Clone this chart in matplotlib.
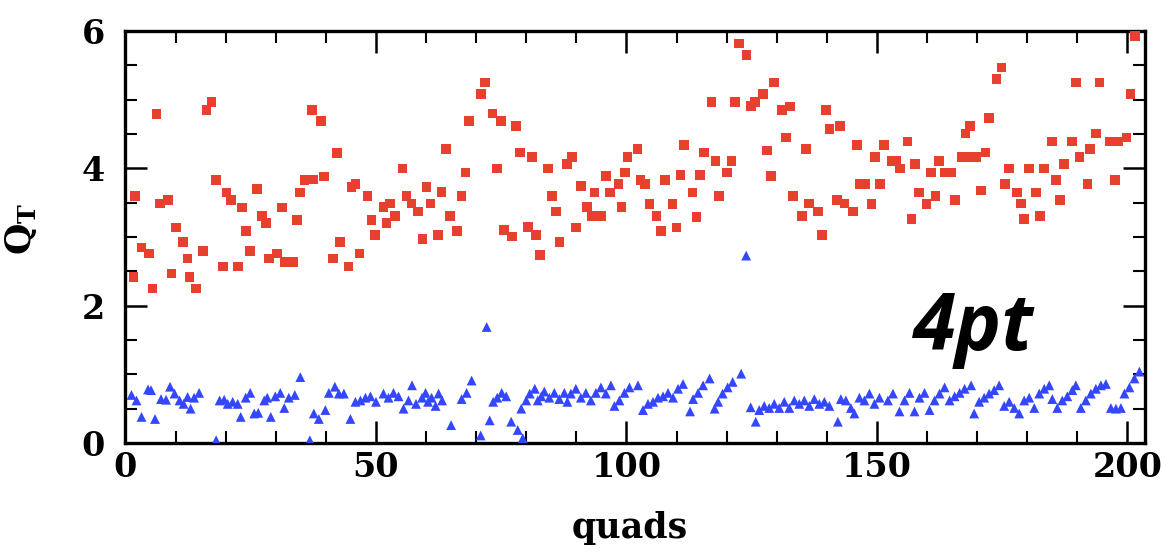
import matplotlib
matplotlib.use("Agg")
import matplotlib.pyplot as plt
from matplotlib.ticker import MultipleLocator

plt.rcParams["mathtext.fontset"] = "dejavuserif"

# ---- data ----
red_x = [1.6, 1.9, 3.2, 4.75, 5.4, 6.2, 6.9, 8.5, 9.2, 10.1, 11.5, 12.4, 12.8, 14.1, 15.5, 16.2, 17.2, 18.1,
         19.5, 20.2, 21.1, 22.5, 23.3, 24.1, 24.8, 26.2, 27.2, 28.0, 28.7, 30.3, 31.2, 31.8, 33.5, 34.2, 34.8,
         35.7, 37.2, 37.5, 39.0, 39.6, 41.4, 42.2, 42.8, 44.5, 45.1, 45.9, 46.7, 48.3, 49.1, 49.8,
         51.5, 52.1, 52.8, 53.8, 55.3, 56.1, 57.1, 58.4, 59.3, 60.1, 60.9, 62.4, 63.1, 64.0, 64.8, 66.2, 67.1,
         67.9, 68.6, 71.0, 71.8, 73.3, 74.1, 75.0, 75.6, 77.1, 77.9, 78.7, 80.4, 81.1, 81.9, 82.7, 84.3, 85.1,
         85.9, 86.6, 88.1, 89.1, 89.9, 90.9, 92.1, 93.1, 93.6, 95.0, 95.9, 96.7, 98.4, 99.0, 99.7, 100.2,
         102.2, 102.8, 103.7, 104.6, 106.0, 106.9, 107.7, 109.2, 110.0, 110.8, 111.5, 113.2, 114.0, 114.7,
         115.5, 117.0, 117.8, 118.5, 120.1, 121.0, 121.7, 122.5, 124.0, 124.8, 125.6, 127.2, 128.0, 128.8,
         129.5, 131.1, 131.8, 132.6, 133.3, 135.0, 135.8, 136.5, 138.2, 139.0, 139.8, 140.5, 142.0, 142.6,
         143.5, 145.2, 146.0, 146.6, 147.6, 148.9, 149.6,
         150.6, 151.4, 152.9, 153.9, 154.6, 156.1, 156.9, 157.6, 158.4, 159.9, 160.8, 161.7, 162.4, 163.6,
         164.9, 165.6, 166.9, 167.7, 168.6, 168.3, 169.8, 170.8, 171.7, 172.4, 173.9, 174.9, 175.6, 176.4,
         177.9, 178.7, 179.3, 180.3, 181.7, 182.5, 183.3, 184.9, 185.7, 186.5, 187.3, 188.9, 189.7, 190.4,
         192.0, 192.5, 193.7, 194.4, 196.5, 197.5, 198.2, 199.8, 200.6, 201.5]
red_y = [2.42, 3.60, 2.85, 2.76, 2.25, 4.79, 3.49, 3.54, 2.47, 3.14, 2.93, 2.69, 2.42, 2.25, 2.80, 4.85, 4.97, 3.83,
         2.57, 3.65, 3.54, 2.57, 3.43, 3.09, 2.80, 3.70, 3.31, 3.20, 2.69, 2.76, 3.43, 2.64, 2.64, 3.25, 3.65,
         3.83, 4.85, 3.84, 4.69, 3.88, 2.69, 4.22, 2.93, 2.57, 3.73, 3.77, 2.76, 3.60, 3.25, 3.03,
         3.44, 3.20, 3.49, 3.31, 4.00, 3.60, 3.49, 3.37, 2.97, 3.73, 3.49, 3.03, 3.66, 4.28, 3.31, 3.09, 3.60,
         3.94, 4.69, 5.08, 5.25, 4.80, 4.00, 4.69, 3.10, 3.01, 4.62, 4.23, 3.15, 4.17, 3.03, 2.74, 4.00, 3.60,
         3.37, 2.93, 4.06, 4.17, 3.14, 3.74, 3.44, 3.31, 3.65, 3.31, 3.89, 3.65, 3.77, 3.44, 3.94, 4.17,
         4.28, 3.83, 3.77, 3.48, 3.31, 3.09, 3.83, 3.48, 3.14, 3.90, 4.34, 3.65, 3.29, 3.90,
         4.23, 4.97, 4.11, 3.60, 3.94, 4.11, 4.97, 5.82, 5.65, 4.91, 4.97, 5.08, 4.26, 3.89,
         5.25, 4.85, 4.45, 4.90, 3.60, 3.31, 4.28, 3.49, 3.37, 3.03, 4.85, 4.57, 3.54, 4.62,
         3.49, 3.37, 4.34, 3.77, 3.77, 3.48, 4.17,
         3.77, 4.34, 4.11, 4.11, 4.00, 4.39, 3.26, 4.06, 3.65, 3.48, 3.94, 3.60, 4.11, 3.94,
         3.94, 3.54, 4.17, 4.51, 4.62, 4.17, 4.17, 3.68, 4.23, 4.73, 5.30, 5.47, 3.77, 4.00,
         3.65, 3.49, 3.26, 4.00, 3.65, 3.31, 4.00, 4.39, 3.83, 3.54, 4.06, 4.39, 5.25, 4.17,
         3.77, 4.28, 4.51, 5.25, 4.39, 3.83, 4.39, 4.45, 5.08, 5.93]

blue_x = [1.2, 2.2, 3.2, 4.5, 5.1, 5.9, 7.1, 8.1, 8.9, 9.8, 10.8, 11.6, 12.4, 13.0, 13.7, 14.7, 18.1, 18.8,
          19.7, 20.4, 21.4, 22.4, 23.0, 24.0, 24.9, 25.7, 26.5, 27.7, 28.3, 29.0, 29.9, 30.9, 31.7, 32.6,
          33.8, 34.9, 36.8, 37.6, 38.6, 39.9, 40.6, 41.8, 42.6, 43.6, 44.9, 45.9, 46.9, 47.9, 48.9, 50.0,
          51.5, 52.5, 53.5, 54.5, 55.5, 56.5, 57.2, 58.0, 59.2, 59.9, 60.4, 61.1, 61.9, 62.5, 63.2, 65.0,
          67.1, 68.1, 69.1, 70.9, 72.1, 72.7, 73.4, 74.2, 75.1, 76.0, 77.0, 78.3, 79.0, 79.3, 80.0, 80.7,
          81.7, 82.3, 83.0, 83.6, 84.6, 85.6, 86.6, 87.6, 88.2, 88.9, 89.9, 90.9, 91.9, 92.9, 93.9, 94.9,
          95.9, 96.9, 97.6, 98.6, 99.6, 100.6,
          102.3, 103.3, 104.3, 105.3, 106.3, 107.3, 108.3, 109.3, 110.3, 111.3, 112.7, 113.3, 114.3, 115.3,
          116.6, 117.6, 118.3, 119.2, 120.2, 121.2, 122.9, 123.9, 124.8, 125.8, 126.5, 127.5, 128.5, 129.5,
          130.5, 131.5, 132.5, 133.5, 134.5, 135.5, 136.5, 137.5, 138.5, 139.5, 140.5, 142.2, 142.8, 143.8,
          144.8, 145.5, 146.5, 147.5, 148.5, 149.5, 150.5,
          152.2, 153.2, 154.5, 155.5, 156.5, 157.5, 158.5, 159.5, 160.5, 161.5, 162.5, 163.5, 164.5, 165.5,
          166.5, 167.5, 168.8, 169.4, 170.4, 171.4, 172.4, 173.4, 174.4, 175.4, 176.4, 177.4, 178.4, 179.4,
          180.4, 181.4, 182.4, 183.4, 184.4, 185.0, 186.0, 187.0, 188.0, 189.0, 189.7, 190.7, 191.7, 192.7,
          193.7, 194.7, 195.7, 196.7, 197.7, 198.7, 199.4, 200.4, 201.4, 202.4]
blue_y = [0.70, 0.62, 0.38, 0.78, 0.77, 0.35, 0.64, 0.63, 0.82, 0.72, 0.62, 0.57, 0.67, 0.50, 0.66, 0.73, 0.04, 0.62,
          0.63, 0.57, 0.60, 0.57, 0.38, 0.66, 0.73, 0.43, 0.44, 0.62, 0.66, 0.38, 0.68, 0.73, 0.51, 0.66,
          0.70, 0.96, 0.04, 0.43, 0.35, 0.48, 0.73, 0.82, 0.72, 0.72, 0.35, 0.60, 0.62, 0.66, 0.68, 0.60,
          0.72, 0.66, 0.73, 0.68, 0.50, 0.62, 0.84, 0.57, 0.66, 0.73, 0.60, 0.66, 0.54, 0.72, 0.62, 0.26,
          0.64, 0.73, 0.91, 0.11, 1.69, 0.33, 0.60, 0.66, 0.73, 0.68, 0.31, 0.19, 0.50, 0.07, 0.62, 0.72,
          0.79, 0.62, 0.68, 0.75, 0.66, 0.73, 0.64, 0.73, 0.60, 0.72, 0.79, 0.66, 0.73, 0.62, 0.73, 0.81,
          0.72, 0.84, 0.54, 0.62, 0.73, 0.81,
          0.84, 0.48, 0.57, 0.60, 0.66, 0.68, 0.73, 0.66, 0.79, 0.86, 0.46, 0.64, 0.73, 0.84,
          0.94, 0.50, 0.60, 0.72, 0.81, 0.89, 1.01, 2.73, 0.52, 0.31, 0.48, 0.54, 0.51, 0.57,
          0.51, 0.60, 0.51, 0.62, 0.57, 0.62, 0.54, 0.64, 0.57, 0.60, 0.54, 0.31, 0.64, 0.62,
          0.51, 0.43, 0.66, 0.62, 0.72, 0.57, 0.66,
          0.62, 0.72, 0.46, 0.62, 0.73, 0.46, 0.66, 0.73, 0.48, 0.62, 0.72, 0.81, 0.62, 0.68,
          0.73, 0.79, 0.84, 0.43, 0.60, 0.66, 0.72, 0.77, 0.84, 0.54, 0.60, 0.51, 0.43, 0.62,
          0.66, 0.51, 0.72, 0.79, 0.84, 0.64, 0.51, 0.62, 0.68, 0.77, 0.84, 0.51, 0.62, 0.72,
          0.79, 0.84, 0.86, 0.51, 0.50, 0.51, 0.72, 0.81, 0.94, 1.04]

x_ticks = [0, 50, 100, 150, 200]
y_ticks = [0, 2, 4, 6]
x_label = "quads"
y_label = r"$\mathbf{Q_T}$"
annotation = "4pt"

# ---- figure ----
fig = plt.figure(figsize=(11.65, 5.55), dpi=100)
ax = fig.add_axes([0.1077, 0.2018, 0.8751, 0.7422])

ax.scatter(red_x, red_y, marker="s", s=48, color="#E8402F", edgecolors="none", zorder=3)
ax.scatter(blue_x, blue_y, marker="^", s=50, color="#3447FF", edgecolors="none", zorder=3)

ax.set_xlim(0, 203.5)
ax.set_ylim(0, 6)
ax.set_xticks(x_ticks)
ax.set_yticks(y_ticks)
ax.xaxis.set_minor_locator(MultipleLocator(10))
ax.yaxis.set_minor_locator(MultipleLocator(0.5))

tick_font = dict(family="DejaVu Serif", weight="bold", size=24)
ax.set_xticklabels([str(t) for t in x_ticks], fontdict=tick_font)
ax.set_yticklabels([str(t) for t in y_ticks], fontdict=tick_font)

ax.tick_params(which="major", direction="in", length=16, width=1.8,
               top=True, right=True, pad=6, color="black")
ax.tick_params(axis="y", which="major", pad=15)
ax.tick_params(which="minor", direction="in", length=8.5, width=1.5,
               top=True, right=True, color="black")
for sp in ax.spines.values():
    sp.set_linewidth(2.4)

ax.set_xlabel(x_label, family="DejaVu Serif", weight="bold", size=25)
ax.xaxis.set_label_coords(0.495, -0.165)
ax.set_ylabel(y_label, size=26)
ax.yaxis.set_label_coords(-0.085, 0.52)

ax.text(157.1, 1.35, annotation, family=["Open Sans", "DejaVu Sans"], weight="bold",
        style="italic", size=56, ha="left", va="baseline", color="black", zorder=4)

fig.savefig("out.png", dpi=100)
